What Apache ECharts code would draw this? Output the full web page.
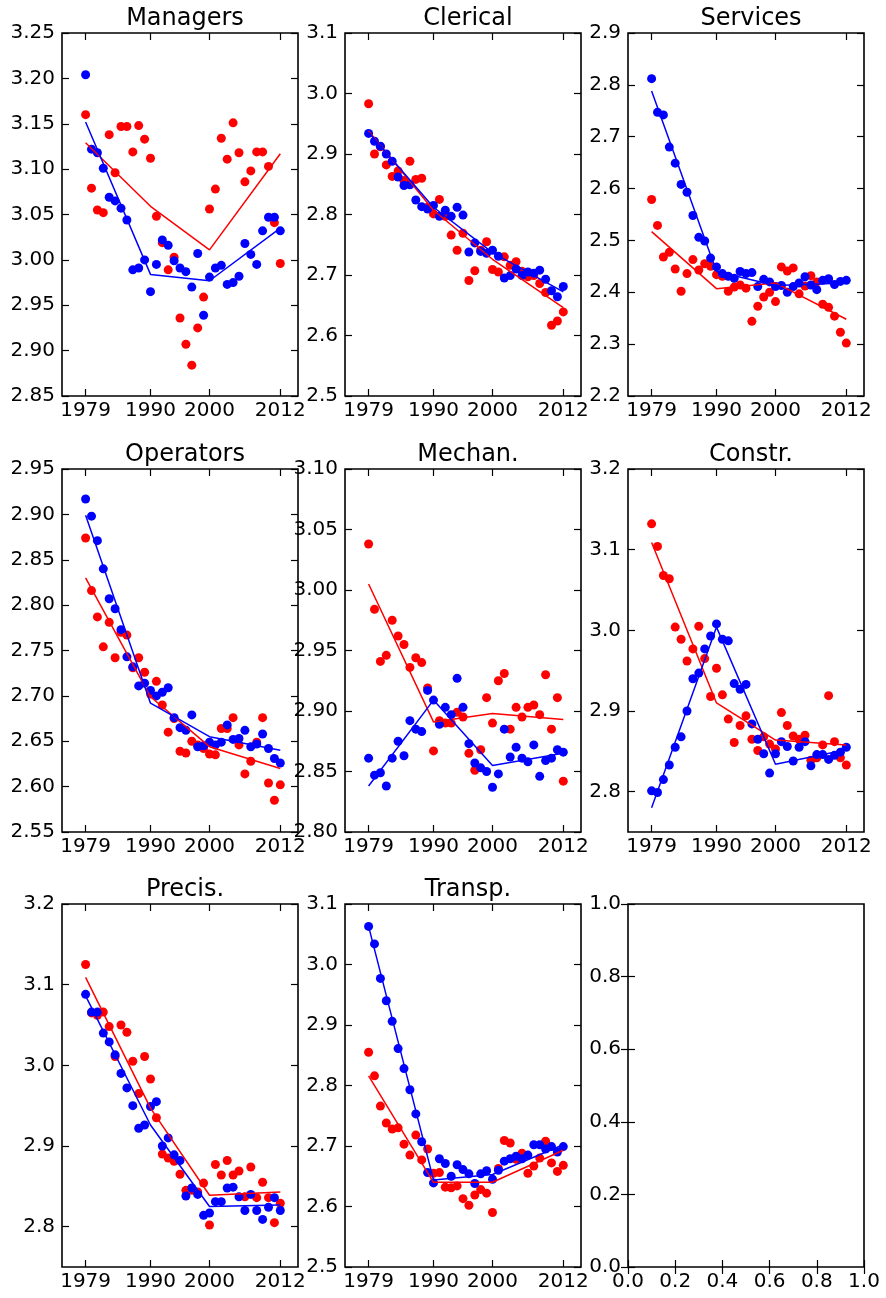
<!DOCTYPE html>
<html>
<head>
<meta charset="utf-8">
<script src="https://cdn.jsdelivr.net/npm/echarts@6/dist/echarts.min.js"></script>
<style>
  html, body { margin: 0; padding: 0; background: #fff; }
  #chart { width: 886px; height: 1298px; }
</style>
</head>
<body>
<div id="chart"></div>
<script>
// years of observation and the break years of the piecewise fits
const years = [1979, 1980, 1981, 1982, 1983, 1984, 1985, 1986, 1987, 1988, 1989, 1990,
  1991, 1992, 1993, 1994, 1995, 1996, 1997, 1998, 1999, 2000, 2001, 2002, 2003, 2004,
  2005, 2006, 2007, 2008, 2009, 2010, 2011, 2012];
const fitYears = [1979, 1990, 2000, 2012];
const yearTicks = [1979, 1990, 2000, 2012];

const titles = ['Managers', 'Clerical', 'Services', 'Operators', 'Mechan.', 'Constr.', 'Precis.', 'Transp.'];

const managersRed = [3.160, 3.079, 3.055, 3.052, 3.138, 3.096, 3.147, 3.147, 3.119, 3.148, 3.133, 3.112, 3.048, 3.019, 2.989, 3.003, 2.936, 2.907, 2.884, 2.925, 2.959, 3.056, 3.078, 3.134, 3.111, 3.151, 3.118, 3.086, 3.098, 3.119, 3.119, 3.103, 3.041, 2.996];
const managersBlue = [3.204, 3.122, 3.118, 3.101, 3.069, 3.065, 3.057, 3.044, 2.989, 2.991, 3.000, 2.965, 2.995, 3.022, 3.016, 2.999, 2.991, 2.987, 2.970, 3.007, 2.939, 2.981, 2.991, 2.994, 2.973, 2.975, 2.982, 3.018, 3.006, 2.995, 3.032, 3.047, 3.047, 3.032];
const managersRedFit = [3.129, 3.059, 3.011, 3.117];
const managersBlueFit = [3.152, 2.984, 2.977, 3.035];

const clericalRed = [2.983, 2.900, 2.912, 2.882, 2.863, 2.872, 2.856, 2.888, 2.858, 2.860, 2.812, 2.801, 2.825, 2.797, 2.766, 2.741, 2.769, 2.691, 2.707, 2.741, 2.755, 2.709, 2.705, 2.730, 2.716, 2.722, 2.706, 2.697, 2.699, 2.686, 2.671, 2.617, 2.624, 2.639];
const clericalBlue = [2.934, 2.921, 2.913, 2.900, 2.888, 2.862, 2.848, 2.849, 2.824, 2.813, 2.809, 2.815, 2.797, 2.807, 2.797, 2.812, 2.799, 2.738, 2.753, 2.739, 2.736, 2.741, 2.731, 2.695, 2.699, 2.710, 2.699, 2.705, 2.703, 2.708, 2.693, 2.674, 2.664, 2.681];
const clericalRedFit = [2.938, 2.807, 2.726, 2.646];
const clericalBlueFit = [2.936, 2.812, 2.737, 2.672];

const servicesRed = [2.579, 2.529, 2.468, 2.477, 2.445, 2.402, 2.436, 2.463, 2.443, 2.455, 2.450, 2.434, 2.431, 2.402, 2.410, 2.414, 2.408, 2.344, 2.373, 2.391, 2.400, 2.382, 2.449, 2.441, 2.447, 2.397, 2.412, 2.432, 2.420, 2.377, 2.371, 2.354, 2.323, 2.302];
const servicesBlue = [2.812, 2.747, 2.742, 2.680, 2.649, 2.608, 2.593, 2.548, 2.506, 2.499, 2.466, 2.449, 2.436, 2.431, 2.427, 2.440, 2.436, 2.438, 2.411, 2.425, 2.420, 2.411, 2.413, 2.400, 2.411, 2.418, 2.430, 2.414, 2.405, 2.423, 2.426, 2.415, 2.421, 2.423];
const servicesRedFit = [2.517, 2.407, 2.418, 2.348];
const servicesBlueFit = [2.788, 2.440, 2.413, 2.418];

const operatorsRed = [2.874, 2.816, 2.787, 2.754, 2.781, 2.742, 2.770, 2.767, 2.731, 2.742, 2.726, 2.702, 2.716, 2.690, 2.660, 2.675, 2.639, 2.637, 2.650, 2.646, 2.642, 2.636, 2.635, 2.664, 2.664, 2.676, 2.646, 2.614, 2.628, 2.649, 2.676, 2.604, 2.585, 2.602];
const operatorsBlue = [2.917, 2.898, 2.871, 2.840, 2.807, 2.796, 2.773, 2.743, 2.732, 2.711, 2.714, 2.706, 2.700, 2.704, 2.709, 2.676, 2.665, 2.662, 2.679, 2.644, 2.645, 2.649, 2.646, 2.649, 2.668, 2.652, 2.653, 2.662, 2.644, 2.647, 2.658, 2.642, 2.631, 2.626];
const operatorsRedFit = [2.830, 2.699, 2.644, 2.620];
const operatorsBlueFit = [2.899, 2.692, 2.655, 2.640];

const mechanRed = [3.038, 2.984, 2.941, 2.946, 2.975, 2.962, 2.955, 2.936, 2.944, 2.940, 2.919, 2.867, 2.892, 2.890, 2.890, 2.899, 2.895, 2.865, 2.851, 2.868, 2.911, 2.890, 2.925, 2.931, 2.885, 2.903, 2.895, 2.903, 2.905, 2.897, 2.930, 2.885, 2.911, 2.842];
const mechanBlue = [2.861, 2.847, 2.849, 2.838, 2.861, 2.875, 2.863, 2.892, 2.885, 2.883, 2.917, 2.909, 2.889, 2.903, 2.897, 2.927, 2.903, 2.873, 2.857, 2.853, 2.850, 2.837, 2.848, 2.885, 2.862, 2.870, 2.861, 2.858, 2.872, 2.846, 2.859, 2.861, 2.868, 2.866];
const mechanRedFit = [3.005, 2.891, 2.898, 2.893];
const mechanBlueFit = [2.838, 2.909, 2.855, 2.865];

const constrRed = [3.132, 3.104, 3.068, 3.064, 3.004, 2.989, 2.962, 2.977, 3.005, 2.965, 2.918, 2.953, 2.920, 2.890, 2.861, 2.882, 2.894, 2.865, 2.851, 2.868, 2.859, 2.853, 2.898, 2.882, 2.869, 2.865, 2.870, 2.839, 2.842, 2.858, 2.919, 2.862, 2.842, 2.833];
const constrBlue = [2.801, 2.799, 2.815, 2.833, 2.855, 2.868, 2.900, 2.940, 2.947, 2.977, 2.993, 3.008, 2.989, 2.987, 2.934, 2.927, 2.933, 2.884, 2.865, 2.847, 2.823, 2.847, 2.862, 2.856, 2.838, 2.855, 2.862, 2.832, 2.846, 2.846, 2.840, 2.845, 2.849, 2.855];
const constrRedFit = [3.109, 2.910, 2.864, 2.858];
const constrBlueFit = [2.780, 3.004, 2.834, 2.852];

const precisRed = [3.125, 3.065, 3.062, 3.066, 3.048, 3.011, 3.050, 3.041, 3.005, 2.965, 3.011, 2.983, 2.935, 2.890, 2.885, 2.881, 2.865, 2.845, 2.845, 2.843, 2.854, 2.802, 2.877, 2.864, 2.882, 2.864, 2.869, 2.837, 2.874, 2.836, 2.855, 2.836, 2.805, 2.829];
const precisBlue = [3.088, 3.066, 3.066, 3.040, 3.029, 3.013, 2.990, 2.972, 2.950, 2.922, 2.926, 2.949, 2.955, 2.900, 2.910, 2.889, 2.882, 2.838, 2.848, 2.840, 2.814, 2.817, 2.831, 2.831, 2.848, 2.849, 2.837, 2.820, 2.840, 2.820, 2.809, 2.824, 2.836, 2.820];
const precisRedFit = [3.109, 2.947, 2.839, 2.843];
const precisBlueFit = [3.086, 2.926, 2.825, 2.827];

const transpRed = [2.855, 2.816, 2.766, 2.738, 2.728, 2.730, 2.703, 2.685, 2.718, 2.677, 2.695, 2.655, 2.656, 2.632, 2.631, 2.634, 2.613, 2.602, 2.619, 2.628, 2.622, 2.590, 2.663, 2.709, 2.705, 2.678, 2.688, 2.655, 2.667, 2.680, 2.708, 2.672, 2.658, 2.668];
const transpBlue = [3.063, 3.034, 2.977, 2.940, 2.906, 2.861, 2.828, 2.793, 2.753, 2.707, 2.656, 2.639, 2.679, 2.671, 2.650, 2.669, 2.661, 2.654, 2.638, 2.654, 2.659, 2.645, 2.660, 2.675, 2.679, 2.683, 2.679, 2.685, 2.702, 2.702, 2.695, 2.699, 2.690, 2.699];
const transpRedFit = [2.816, 2.640, 2.640, 2.693];
const transpBlueFit = [3.063, 2.644, 2.653, 2.702];

// y tick labels of each panel
const managersTicks = [2.85, 2.90, 2.95, 3.00, 3.05, 3.10, 3.15, 3.20, 3.25];
const clericalTicks = [2.5, 2.6, 2.7, 2.8, 2.9, 3.0, 3.1];
const servicesTicks = [2.2, 2.3, 2.4, 2.5, 2.6, 2.7, 2.8, 2.9];
const operatorsTicks = [2.55, 2.60, 2.65, 2.70, 2.75, 2.80, 2.85, 2.90, 2.95];
const mechanTicks = [2.80, 2.85, 2.90, 2.95, 3.00, 3.05, 3.10];
const constrTicks = [2.8, 2.9, 3.0, 3.1, 3.2];
const precisTicks = [2.8, 2.9, 3.0, 3.1, 3.2];
const transpTicks = [2.5, 2.6, 2.7, 2.8, 2.9, 3.0, 3.1];
const emptyTicks = [0.0, 0.2, 0.4, 0.6, 0.8, 1.0];

const panels = [
  { red: managersRed, blue: managersBlue, redFit: managersRedFit, blueFit: managersBlueFit, ticks: managersTicks, min: 2.85, max: 3.25, dec: 2 },
  { red: clericalRed, blue: clericalBlue, redFit: clericalRedFit, blueFit: clericalBlueFit, ticks: clericalTicks, min: 2.5, max: 3.1, dec: 1 },
  { red: servicesRed, blue: servicesBlue, redFit: servicesRedFit, blueFit: servicesBlueFit, ticks: servicesTicks, min: 2.2, max: 2.9, dec: 1 },
  { red: operatorsRed, blue: operatorsBlue, redFit: operatorsRedFit, blueFit: operatorsBlueFit, ticks: operatorsTicks, min: 2.55, max: 2.95, dec: 2 },
  { red: mechanRed, blue: mechanBlue, redFit: mechanRedFit, blueFit: mechanBlueFit, ticks: mechanTicks, min: 2.80, max: 3.10, dec: 2 },
  { red: constrRed, blue: constrBlue, redFit: constrRedFit, blueFit: constrBlueFit, ticks: constrTicks, min: 2.75, max: 3.2, dec: 1 },
  { red: precisRed, blue: precisBlue, redFit: precisRedFit, blueFit: precisBlueFit, ticks: precisTicks, min: 2.75, max: 3.2, dec: 1 },
  { red: transpRed, blue: transpBlue, redFit: transpRedFit, blueFit: transpBlueFit, ticks: transpTicks, min: 2.5, max: 3.1, dec: 1 }
];

const FONT = 'DejaVu Sans';
const colLeft = [62, 345, 628];
const rowTop = [33, 469, 904];
const W = 236, H = 363;

const grid = [], xAxis = [], yAxis = [], series = [], title = [];

function makeX(gi, pos, min, max, ticks, fmt, label) {
  return {
    type: 'value', gridIndex: gi, position: pos, min: min, max: max,
    axisLine: { show: false }, splitLine: { show: false },
    axisTick: { show: true, inside: true, length: 7, customValues: ticks, lineStyle: { color: '#000', width: 1.2 } },
    axisLabel: { show: label, customValues: ticks, formatter: fmt, color: '#000', fontFamily: FONT, fontSize: 20, margin: 5 }
  };
}
function makeY(gi, pos, min, max, ticks, fmt, label) {
  return {
    type: 'value', gridIndex: gi, position: pos, min: min, max: max,
    axisLine: { show: false }, splitLine: { show: false },
    axisTick: { show: true, inside: true, length: 7, customValues: ticks, lineStyle: { color: '#000', width: 1.2 } },
    axisLabel: { show: label, customValues: ticks, formatter: fmt, color: '#000', fontFamily: FONT, fontSize: 20, margin: 7 }
  };
}

for (let i = 0; i < 9; i++) {
  const left = colLeft[i % 3], top = rowTop[Math.floor(i / 3)];
  grid.push({ left: left, top: top, width: W, height: H, show: true, borderColor: '#000', borderWidth: 1.6, backgroundColor: 'transparent', containLabel: false });

  if (i < 8) {
    const p = panels[i];
    const yFmt = v => v.toFixed(p.dec);
    const xFmt = v => String(v);
    xAxis.push(makeX(i, 'bottom', 1975, 2015, yearTicks, xFmt, true));
    xAxis.push(makeX(i, 'top', 1975, 2015, yearTicks, xFmt, false));
    yAxis.push(makeY(i, 'left', p.min, p.max, p.ticks, yFmt, true));
    yAxis.push(makeY(i, 'right', p.min, p.max, p.ticks, yFmt, false));

    title.push({
      text: titles[i], left: left + W / 2, top: top - 31, textAlign: 'center',
      textStyle: { fontFamily: FONT, fontSize: 24, fontWeight: 'normal', color: '#000' }
    });

    const ax = 2 * i;
    series.push({ type: 'scatter', xAxisIndex: ax, yAxisIndex: ax, symbolSize: 9, itemStyle: { color: '#ff0000', opacity: 1 },
      data: years.map((y, k) => [y, p.red[k]]), z: 2 });
    series.push({ type: 'scatter', xAxisIndex: ax, yAxisIndex: ax, symbolSize: 9, itemStyle: { color: '#0000ff', opacity: 1 },
      data: years.map((y, k) => [y, p.blue[k]]), z: 3 });
    series.push({ type: 'line', xAxisIndex: ax, yAxisIndex: ax, showSymbol: false, symbol: 'none',
      lineStyle: { color: '#ff0000', width: 1.5 }, data: fitYears.map((y, k) => [y, p.redFit[k]]), z: 4 });
    series.push({ type: 'line', xAxisIndex: ax, yAxisIndex: ax, showSymbol: false, symbol: 'none',
      lineStyle: { color: '#0000ff', width: 1.5 }, data: fitYears.map((y, k) => [y, p.blueFit[k]]), z: 4 });
  } else {
    const fmt = v => v.toFixed(1);
    xAxis.push(makeX(i, 'bottom', 0, 1, emptyTicks, fmt, true));
    xAxis.push(makeX(i, 'top', 0, 1, emptyTicks, fmt, false));
    yAxis.push(makeY(i, 'left', 0, 1, emptyTicks, fmt, true));
    yAxis.push(makeY(i, 'right', 0, 1, emptyTicks, fmt, false));
  }
}

const chart = echarts.init(document.getElementById('chart'), null, { renderer: 'canvas' });
chart.setOption({
  animation: false,
  backgroundColor: '#fff',
  title: title,
  grid: grid,
  xAxis: xAxis,
  yAxis: yAxis,
  series: series
});
</script>
</body>
</html>
